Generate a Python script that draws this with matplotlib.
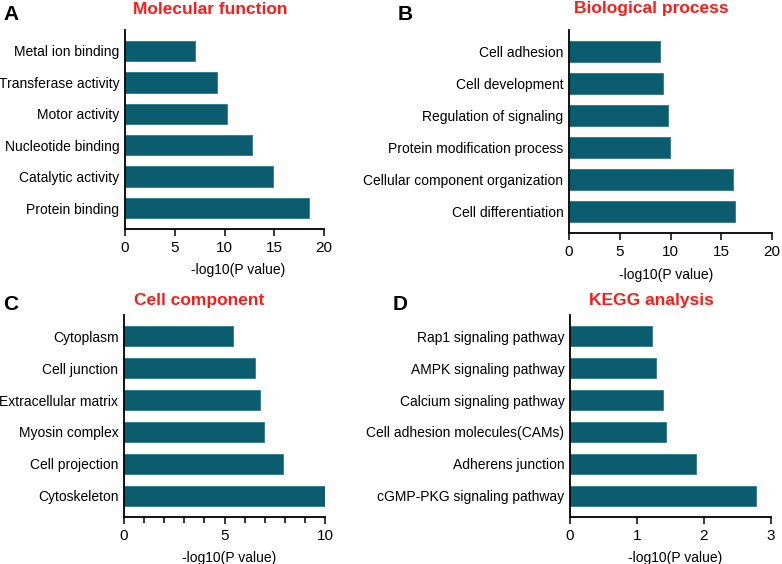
import matplotlib
matplotlib.use("Agg")
import matplotlib.pyplot as plt
from matplotlib.ticker import MultipleLocator

plt.rcParams['font.family'] = ['Liberation Sans', 'DejaVu Sans']

mf_terms = ["Metal ion binding", "Transferase activity", "Motor activity",
            "Nucleotide binding", "Catalytic activity", "Protein binding"]
mf_vals = [7.0, 9.25, 10.25, 12.8, 14.9, 18.45]

bp_terms = ["Cell adhesion", "Cell development", "Regulation of signaling",
            "Protein modification process", "Cellular component organization",
            "Cell differentiation"]
bp_vals = [9.0, 9.3, 9.75, 9.92, 16.2, 16.4]

cc_terms = ["Cytoplasm", "Cell junction", "Extracellular matrix",
            "Myosin complex", "Cell projection", "Cytoskeleton"]
cc_vals = [5.43, 6.52, 6.76, 6.97, 7.93, 10.0]

kegg_terms = ["Rap1 signaling pathway", "AMPK signaling pathway",
              "Calcium signaling pathway", "Cell adhesion molecules(CAMs)",
              "Adherens junction", "cGMP-PKG signaling pathway"]
kegg_vals = [1.22, 1.28, 1.39, 1.44, 1.88, 2.77]

titles = ["Molecular function", "Biological process", "Cell component", "KEGG analysis"]
letters = ["A", "B", "C", "D"]
xmax = [20, 20, 10, 3]
xstep = [5, 5, 5, 1]

W, H = 782, 564
fig = plt.figure(figsize=(W / 100, H / 100), dpi=100)

# axes boxes in pixels: left, top, right, bottom
boxes = [(125, 30, 324, 229), (569, 30, 772, 233), (124, 315, 325, 517), (570, 315, 771, 517)]
title_pos = [(210, 9), (651, 9), (199, 301), (651, 301)]
letter_pos = [(3, 15), (398, 15), (3, 304), (393, 304)]
xlabel_x = [0.568, 0.478, 0.522, 0.522]

data = [(mf_terms, mf_vals), (bp_terms, bp_vals), (cc_terms, cc_vals), (kegg_terms, kegg_vals)]
color = "#0b5c6e"

for i, (terms, vals) in enumerate(data):
    l, t, r, b = boxes[i]
    ax = fig.add_axes([l / W, 1 - b / H, (r - l) / W, (b - t) / H])
    y = list(range(len(terms)))
    ax.barh(y, vals, height=0.65, color=color, edgecolor="#2d7a8a", linewidth=0.6)
    ax.set_ylim(len(terms) - 1 + 0.66, -0.66)
    ax.set_xlim(0, xmax[i])
    ax.set_yticks(y)
    ax.set_yticklabels(terms, fontsize=10)
    ax.xaxis.set_major_locator(MultipleLocator(xstep[i]))
    if i == 2:
        ax.xaxis.set_minor_locator(MultipleLocator(1))
        ax.tick_params(axis='x', which='minor', length=4.5, width=1.1)
    ax.tick_params(axis='y', length=0, pad=4)
    ax.tick_params(axis='x', which='major', length=5.2, width=1.1, labelsize=11, pad=3.5)
    for s in ['top', 'right']:
        ax.spines[s].set_visible(False)
    for s in ['left', 'bottom']:
        ax.spines[s].set_linewidth(1.3)
    ax.set_xlabel("-log10(P value)", fontsize=10)
    ax.xaxis.set_label_coords(xlabel_x[i], -0.17)
    tx, ty = title_pos[i]
    fig.text(tx / W, 1 - ty / H, titles[i], color="#ff1a1a", fontsize=12.5,
             fontweight='bold', ha='center', va='center')
    lx, ly = letter_pos[i]
    fig.text(lx / W, 1 - ly / H, letters[i], color="black", fontsize=15,
             fontweight='bold', ha='left', va='center')

fig.savefig("out.png", dpi=100)
